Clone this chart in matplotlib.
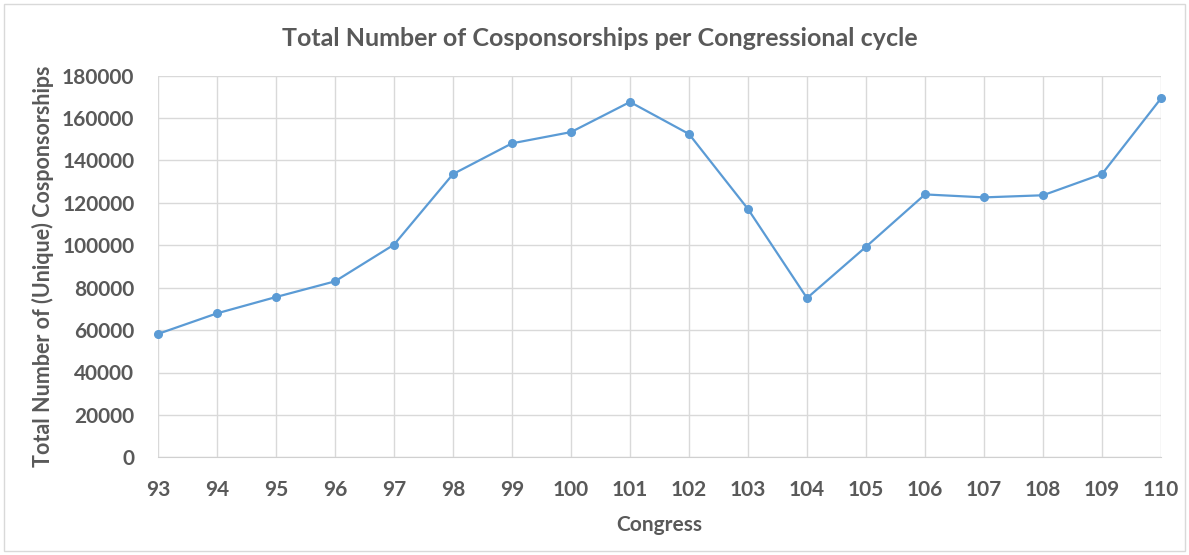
import matplotlib.pyplot as plt

congress = [93, 94, 95, 96, 97, 98, 99, 100, 101, 102, 103, 104, 105, 106, 107, 108, 109, 110]
cosponsorships = [58200, 67900, 75600, 83000, 100300, 133600, 148100, 153400, 167600,
                  152500, 117100, 75100, 99300, 124000, 122600, 123600, 133600, 169300]

plt.rcParams['font.family'] = ['Lato', 'DejaVu Sans']
txt = '#595959'

fig = plt.figure(figsize=(11.89, 5.55), dpi=100)
ax = fig.add_axes([158 / 1189, 1 - 457.3 / 555, (1161 - 158) / 1189, (457.3 - 75.7) / 555])

ax.plot(congress, cosponsorships, color='#5b9bd5', lw=1.6, marker='o', ms=5.5, clip_on=False, zorder=3)

ax.set_xlim(93, 110)
ax.set_ylim(0, 180000)
ax.set_xticks(congress)
ax.set_yticks(range(0, 180001, 20000))
ax.grid(True, color='#d9d9d9', lw=1)
ax.set_axisbelow(True)
for s in ['top', 'right', 'left']:
    ax.spines[s].set_visible(False)
ax.spines['bottom'].set_color('#d0d0d0')
ax.tick_params(length=0, labelsize=15, labelcolor=txt)
ax.tick_params(axis='x', pad=16)
ax.tick_params(axis='y', pad=17)
for lab in ax.get_xticklabels() + ax.get_yticklabels():
    lab.set_fontweight('bold')

ax.set_xlabel('Congress', fontsize=15, color=txt, fontweight='bold', labelpad=11)
ax.set_ylabel('Total Number of (Unique) Cosponsorships', fontsize=15.5, color=txt, fontweight='bold', labelpad=6)
fig.text(0.5045, 1 - 39 / 555, 'Total Number of Cosponsorships per Congressional cycle',
         ha='center', va='center', fontsize=18, color=txt, fontweight='bold')

fig.patches.append(plt.Rectangle((4 / 1189, 4 / 555), 1 - 8 / 1189, 1 - 8 / 555, transform=fig.transFigure,
                                 fill=False, edgecolor='#d9d9d9', lw=1))

fig.savefig('out.png', dpi=100)
